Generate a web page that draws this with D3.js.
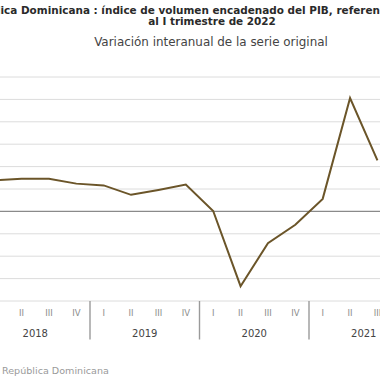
<!DOCTYPE html>
<html>
<head>
<meta charset="utf-8">
<script src="https://cdn.jsdelivr.net/npm/d3@7"></script>
<style>
  html, body { margin: 0; padding: 0; background: #fff; overflow: hidden; }
  svg { display: block; }
</style>
</head>
<body>
<svg id="chart" width="380" height="380"></svg>
<script>
// ---- data ----
const years = ["2018", "2019", "2020", "2021"];
const quarterLabels = ["I", "II", "III", "IV"];
const periods = [
  "2018-I","2018-II","2018-III","2018-IV",
  "2019-I","2019-II","2019-III","2019-IV",
  "2020-I","2020-II","2020-III","2020-IV",
  "2021-I","2021-II","2021-III"
];
const growth = [6.9, 7.3, 7.3, 6.2, 5.8, 3.7, 4.8, 6.0, 0.1, -16.7, -7.1, -3.0, 2.8, 25.3, 11.4];
const yTicks = [-20, -15, -10, -5, 0, 5, 10, 15, 20, 25, 30];
const titleLine1 = "República Dominicana : índice de volumen encadenado del PIB, referencia 2007";
const titleLine2 = "al I trimestre de 2022";
const subtitle = "Variación interanual de la serie original";
const source = "Fuente: Banco Central de la República Dominicana";

// ---- layout ----
const svg = d3.select("#chart");
const font = "'DejaVu Sans', sans-serif";
const plotLeft = -19.5, yearW = 109.5;
const nQuarters = years.length * 4;
const x = d3.scaleLinear().domain([0, nQuarters]).range([plotLeft, plotLeft + yearW * years.length]);
const y = d3.scaleLinear().domain([-20, 30]).range([301, 77]);

// gridlines
svg.append("g").selectAll("line").data(yTicks).join("line")
  .attr("x1", -30).attr("x2", 420)
  .attr("y1", d => y(d)).attr("y2", d => y(d))
  .attr("stroke", d => d === 0 ? "#8a8a8a" : "#dcdcdc")
  .attr("stroke-width", d => d === 0 ? 1.3 : 1);

// year separators
svg.append("g").selectAll("line").data(d3.range(years.length + 1)).join("line")
  .attr("x1", d => x(d * 4)).attr("x2", d => x(d * 4))
  .attr("y1", 301).attr("y2", 339.5)
  .attr("stroke", "#9a9a9a").attr("stroke-width", 1.4);

// quarter labels
const qData = [];
years.forEach((yr, yi) => quarterLabels.forEach((q, qi) => qData.push({q, i: yi * 4 + qi})));
svg.append("g").selectAll("text").data(qData).join("text")
  .attr("x", d => x(d.i + 0.5)).attr("y", 316)
  .attr("text-anchor", "middle")
  .attr("font-family", font).attr("font-size", 8.5)
  .attr("fill", "#8c8c8c")
  .text(d => d.q);

// year labels
svg.append("g").selectAll("text").data(years).join("text")
  .attr("x", (d, i) => x(i * 4 + 2)).attr("y", 336.5)
  .attr("text-anchor", "middle")
  .attr("font-family", font).attr("font-size", 10)
  .attr("fill", "#444")
  .text(d => d);

// line
const line = d3.line().x((d, i) => x(i + 0.5)).y(d => y(d));
svg.append("path").datum(growth)
  .attr("d", line)
  .attr("fill", "none")
  .attr("stroke", "#6b5529")
  .attr("stroke-width", 2)
  .attr("stroke-linejoin", "miter");

// titles
const t1 = svg.append("text")
  .attr("y", 13.5)
  .attr("font-family", font).attr("font-weight", "bold").attr("font-size", 10)
  .attr("fill", "#2a2a2a")
  .text(titleLine1);
{
  const node = t1.node();
  const visW = node.getSubStringLength(6, 62);
  const fs = 10 * 380 / visW;
  t1.attr("font-size", fs);
  t1.attr("x", -node.getSubStringLength(0, 6) + 0.5);
}
svg.append("text")
  .attr("x", 212).attr("y", 24.5)
  .attr("text-anchor", "middle")
  .attr("font-family", font).attr("font-weight", "bold")
  .attr("font-size", +t1.attr("font-size"))
  .attr("fill", "#2a2a2a")
  .text(titleLine2);
const st = svg.append("text")
  .attr("x", 211).attr("y", 45.5)
  .attr("text-anchor", "middle")
  .attr("font-family", font).attr("font-size", 10)
  .attr("fill", "#444")
  .text(subtitle);
{
  const w = st.node().getComputedTextLength();
  st.attr("font-size", 10 * 234 / w);
}

// source: "República Dominicana" visible from the left edge
const src = svg.append("text")
  .attr("y", 373.5)
  .attr("font-family", font).attr("font-size", 8.5)
  .attr("fill", "#9a9a9a")
  .text(source);
{
  const node = src.node();
  const start = source.indexOf("República");
  const visW = node.getSubStringLength(start, source.length - start);
  src.attr("font-size", 8.5 * 107 / visW);
  src.attr("x", 2 - node.getSubStringLength(0, start));
}
</script>
</body>
</html>
